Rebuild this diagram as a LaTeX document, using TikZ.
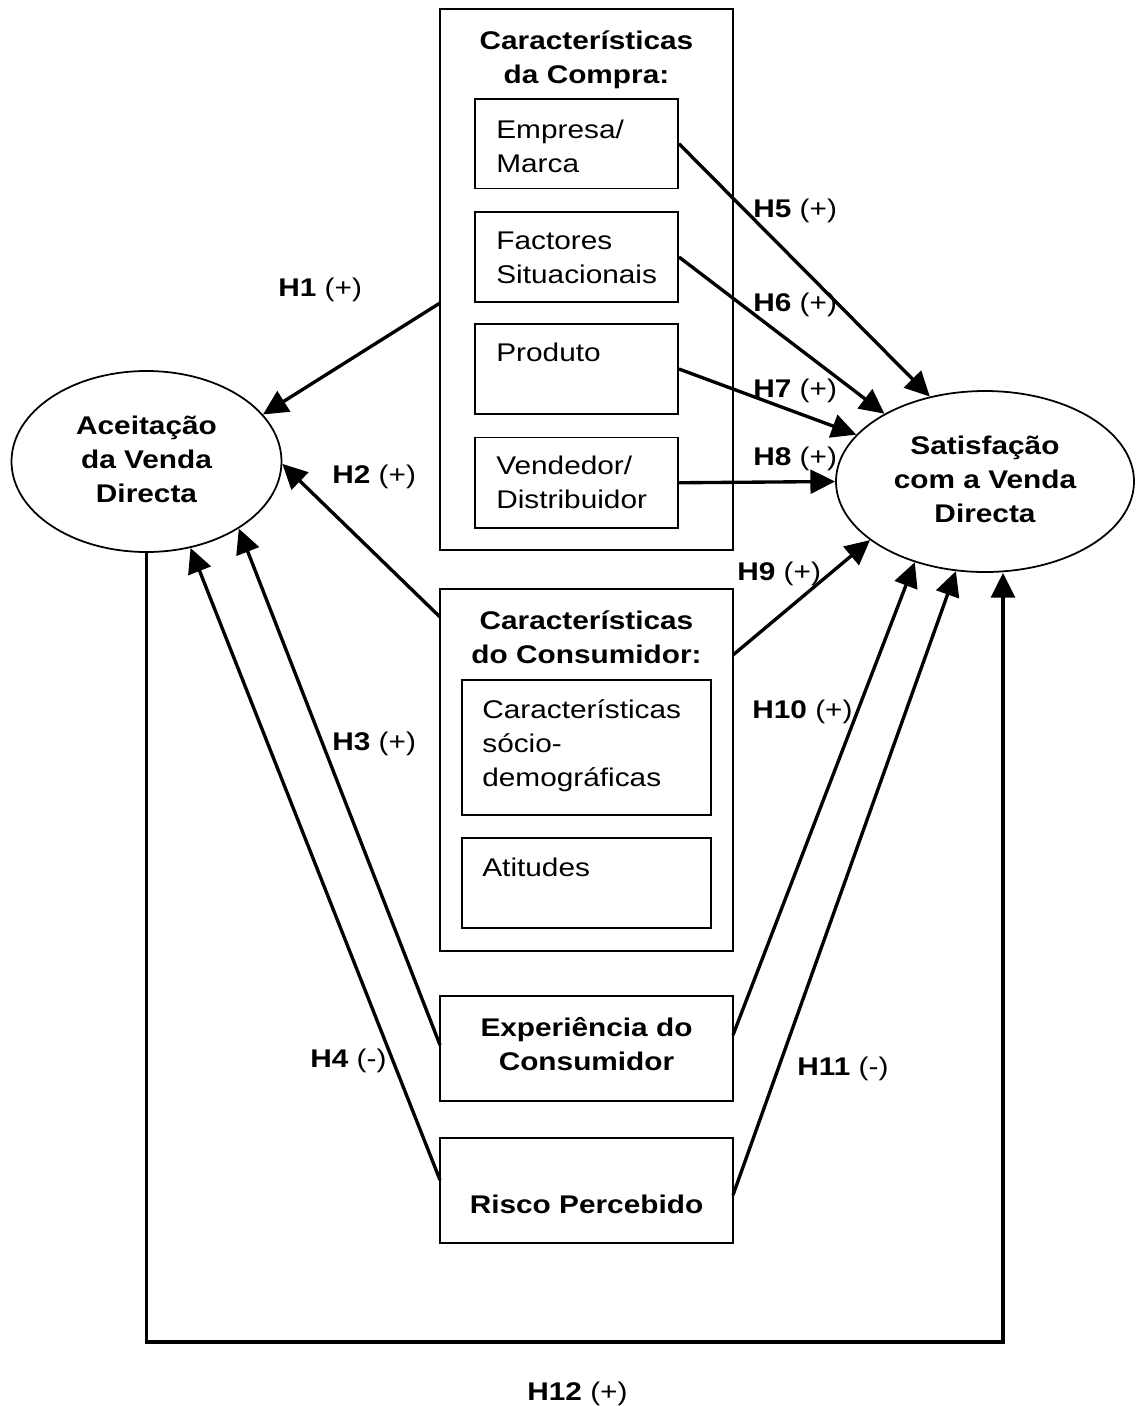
\documentclass[tikz,border=0pt]{standalone}
\usepackage{fontspec}
\setmainfont{Liberation Sans}[FakeStretch=1.165]
\usetikzlibrary{arrows.meta,shapes.geometric}

% one drawing unit as a length, for node sizes
\newdimen\pxu
\pxu=0.5669pt

\begin{document}
\begin{tikzpicture}[x=\pxu,y=-\pxu,
  every node/.style={font=\fontsize{14.5}{19.3}\selectfont},
  box/.style={draw,line width=1.1pt,rectangle,inner sep=0pt},
  oval/.style={draw,line width=1pt,ellipse,inner sep=0pt,align=center,font=\fontsize{14.5}{19.3}\selectfont\bfseries},
  ltxt/.style={anchor=north west,align=left,inner sep=0pt},
  ctxt/.style={anchor=north,align=center,inner sep=0pt,font=\fontsize{14.5}{19.3}\selectfont\bfseries},
  hyp/.style={anchor=base west,inner sep=0pt},
  arr/.style={line width=1.9pt,-{Triangle[length=14pt,width=13.5pt]}}]

\useasboundingbox (0,0) rectangle (1136,1406);

% latent constructs
\node[oval,minimum width=270\pxu,minimum height=181\pxu] (acc) at (146.5,461.5)
  {\strut Aceitação\\da Venda\\Directa\strut};
\node[oval,minimum width=298\pxu,minimum height=181\pxu] (sat) at (985,481.5)
  {\strut Satisfação\\com a Venda\\Directa\strut};

% purchase characteristics
\node[box,minimum width=293\pxu,minimum height=541\pxu] (compra) at (586.5,279.5) {};
\node[ctxt] (comprat) at (586.5,25) {\strut Características\\da Compra:};
\node[box,minimum width=203\pxu,minimum height=89.5\pxu] (emp) at (576.5,143.75) {};
\node[ltxt] (empt) at (496,114) {\strut Empresa/\\Marca};
\node[box,minimum width=203\pxu,minimum height=90\pxu] (fac) at (576.5,257) {};
\node[ltxt] (fact) at (496,225) {\strut Factores\\Situacionais};
\node[box,minimum width=203\pxu,minimum height=90\pxu] (pro) at (576.5,369) {};
\node[ltxt] (prot) at (496,337) {\strut Produto};
\node[box,minimum width=203\pxu,minimum height=90.5\pxu] (ven) at (576.5,482.75) {};
\node[ltxt] (vent) at (496,450) {\strut Vendedor/\\Distribuidor};

% consumer characteristics
\node[box,minimum width=293\pxu,minimum height=362\pxu] (cons) at (586.5,770) {};
\node[ctxt] (const) at (586.5,605) {\strut Características\\do Consumidor:};
\node[box,minimum width=249\pxu,minimum height=135\pxu] (soc) at (586.5,747.5) {};
\node[ltxt] (soct) at (482,694) {\strut Características\\sócio-\\demográficas};
\node[box,minimum width=249\pxu,minimum height=90\pxu] (ati) at (586.5,883) {};
\node[ltxt] (atit) at (482,852) {\strut Atitudes};

% experience and risk
\node[box,minimum width=293\pxu,minimum height=105\pxu] (exp) at (586.5,1048.5) {};
\node[ctxt] (expt) at (586.5,1012) {\strut Experiência do\\Consumidor};
\node[box,minimum width=293\pxu,minimum height=105\pxu] (ris) at (586.5,1190.5) {};
\node[ctxt] (rist) at (586.5,1189) {\strut Risco Percebido};

% connector end points on box borders
\coordinate (h1s) at (440,303);
\coordinate (h2s) at (440,617);
\coordinate (h3s) at (440,1045);
\coordinate (h4s) at (440,1180);
\coordinate (h9s) at (733,655);
\coordinate (h10s) at (733,1035);
\coordinate (h11s) at (733,1195);
\coordinate (h12c) at (1003,1342);

% hypotheses towards acceptance
\draw[arr] (h1s) -- (acc.22);
\draw[arr] (h2s) -- (acc.-1.5);
\draw[arr] (h3s) -- (acc.-36.7);
\draw[arr] (h4s) -- (acc.-63.6);

% hypotheses towards satisfaction
\draw[arr] (emp.east) -- (sat.123.8);
\draw[arr] (fac.east) -- (sat.146.9);
\draw[arr] (pro.east) -- (sat.160.8);
\draw[arr] (ven.east) -- (sat.180);
\draw[arr] (h9s) -- (sat.207.7);
\draw[arr] (h10s) -- (sat.229.2);
\draw[arr] (h11s) -- (sat.252.5);
\draw[arr] (acc.south) |- (h12c) -- (h12c |- sat.south);

% labels
\node[hyp] (l1) at (278,296) {\textbf{H1} (+)};
\node[hyp] (l2) at (332,483) {\textbf{H2} (+)};
\node[hyp] (l3) at (332,750) {\textbf{H3} (+)};
\node[hyp] (l4) at (310,1067) {\textbf{H4} (-)};
\node[hyp] (l5) at (753,217) {\textbf{H5} (+)};
\node[hyp] (l6) at (753,311) {\textbf{H6} (+)};
\node[hyp] (l7) at (753,397) {\textbf{H7} (+)};
\node[hyp] (l8) at (753,465) {\textbf{H8} (+)};
\node[hyp] (l9) at (737,580) {\textbf{H9} (+)};
\node[hyp] (l10) at (752,718) {\textbf{H10} (+)};
\node[hyp] (l11) at (797,1075) {\textbf{H11} (-)};
\node[hyp] (l12) at (527,1400) {\textbf{H12} (+)};
\end{tikzpicture}
\end{document}
